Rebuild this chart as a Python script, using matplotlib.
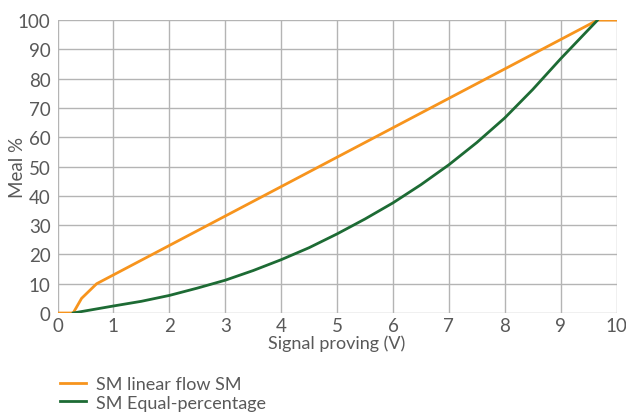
import matplotlib.pyplot as plt

# Kurven ablesen (Signal V -> Menge %)
lin_x = [0, 0.28, 0.43, 0.70, 9.66, 10]
lin_y = [0, 0, 5, 10, 100, 100]

eq_x = [0.28, 1, 1.5, 2, 2.5, 3, 3.5, 4, 4.5, 5, 5.5, 6, 6.5, 7, 7.5, 8, 8.5, 9, 9.66]
eq_y = [0, 2.4, 4.0, 6.0, 8.5, 11.2, 14.5, 18.2, 22.3, 27, 32.1, 37.6, 43.8,
        50.6, 58.2, 66.6, 76.3, 86.8, 100]

labels = ["SM linear flow SM", "SM Equal-percentage"]
xticks = list(range(0, 11))
yticks = list(range(0, 101, 10))

plt.rcParams["font.family"] = ["Lato", "DejaVu Sans"]
txt = "#595959"

fig = plt.figure(figsize=(6.26, 4.14), dpi=100)
ax = fig.add_axes([0.0919, 0.2415, 0.893, 0.7075])

ax.plot(lin_x, lin_y, color="#F7941D", lw=2, label=labels[0], solid_joinstyle="miter")
ax.plot(eq_x, eq_y, color="#1D6B34", lw=2, label=labels[1])

ax.set_xlim(0, 10)
ax.set_ylim(0, 100)
ax.set_xticks(xticks)
ax.set_yticks(yticks)
ax.grid(True, color="#B4B4B4", lw=1)
ax.set_axisbelow(True)
for s in ax.spines.values():
    s.set_visible(False)
ax.tick_params(length=0, labelsize=13.5, colors=txt)
ax.tick_params(axis="y", pad=5)
ax.tick_params(axis="x", pad=3)
ax.set_xlabel("Signal proving (V)", fontsize=13, color=txt, labelpad=0)
ax.set_ylabel("Meal %", fontsize=13.5, color=txt)
ax.yaxis.set_label_coords(-0.056, 0.5)

fig.legend(loc="upper left", bbox_to_anchor=(0.085, 0.107), frameon=False,
           fontsize=13, handlelength=1.4, handletextpad=0.55, labelspacing=0.15,
           borderaxespad=0, labelcolor=txt)

fig.savefig("out.png", dpi=100)
